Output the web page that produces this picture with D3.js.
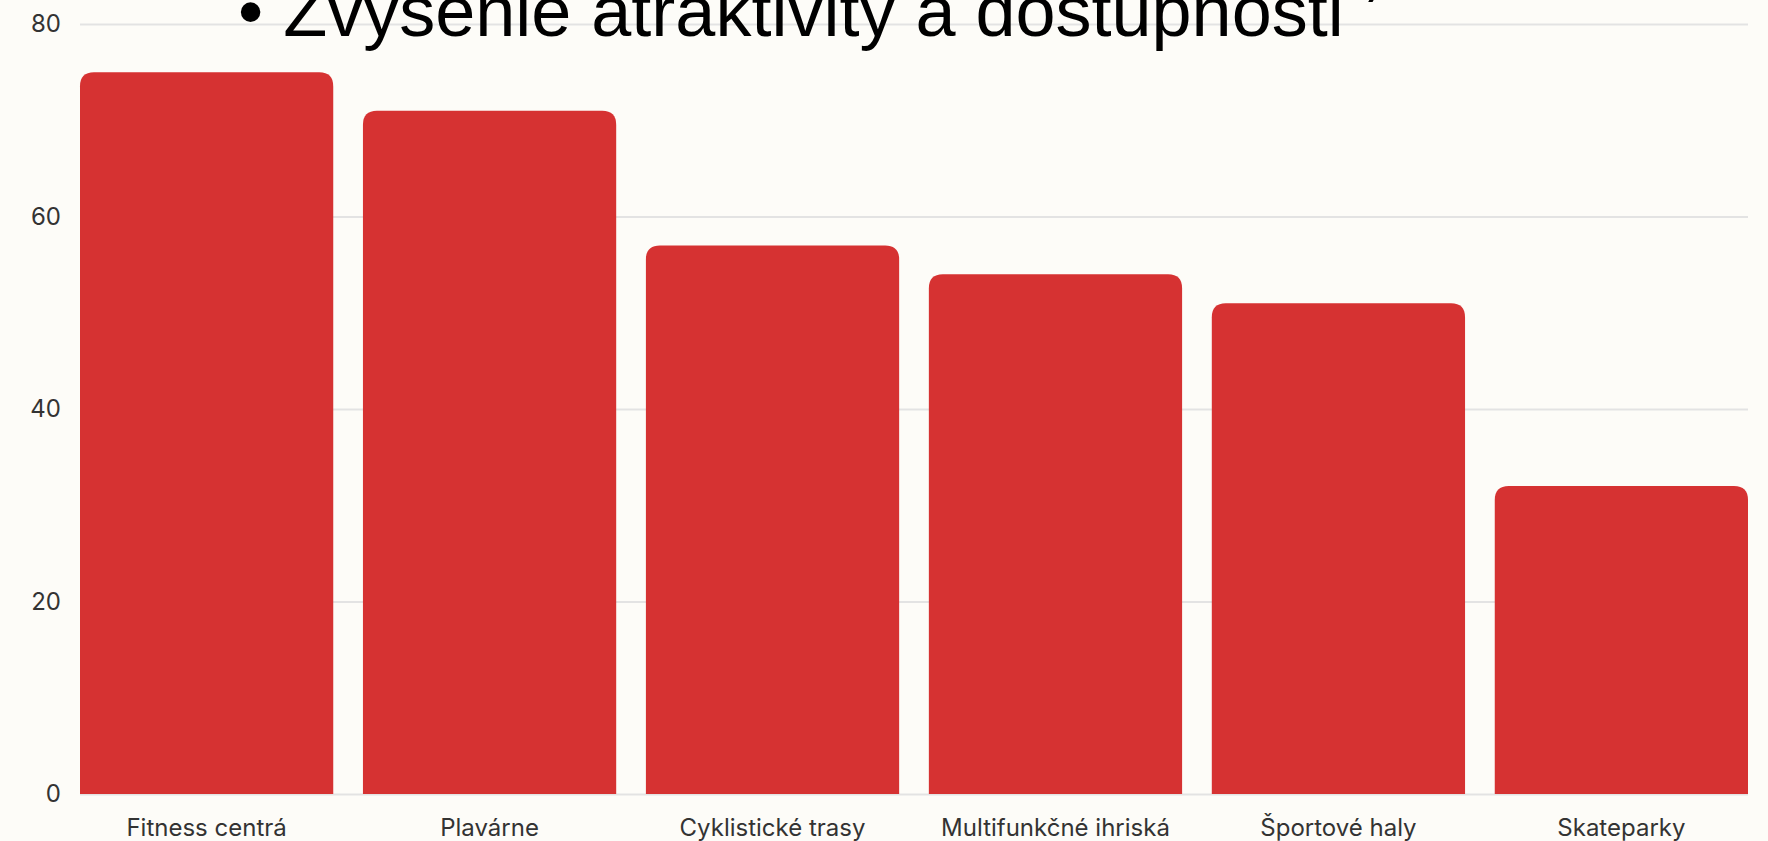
<!DOCTYPE html>
<html>
<head>
<meta charset="utf-8">
<script src="https://cdn.jsdelivr.net/npm/d3@7"></script>
<style>
  html, body { margin: 0; padding: 0; background: #fdfcf8; }
  svg { display: block; }
</style>
</head>
<body>
<div id="chart"></div>
<script>
// values
const categories = ["Fitness centrá", "Plavárne", "Cyklistické trasy", "Multifunkčné ihriská", "Športové haly", "Skateparky"];
const values = [75, 71, 57, 54, 51, 32];
const yTicks = [0, 20, 40, 60, 80];
const title = "• Zvýšenie atraktivity a dostupnosti ’";

const width = 1768, height = 841;
const margin = {top: 24, right: 20, bottom: 47, left: 80};

const svg = d3.select("#chart")
  .append("svg")
    .attr("width", width)
    .attr("height", height)
    .style("background-color", "#fdfcf8");

// scales
const xScale = d3.scaleBand()
  .domain(categories)
  .range([margin.left, width - margin.right])
  .paddingInner(0.105)
  .paddingOuter(0);

const yScale = d3.scaleLinear()
  .domain([0, 80])
  .range([height - margin.bottom, margin.top]);

// gridlines + y labels
const yAxis = svg.append("g")
  .attr("transform", `translate(${margin.left},0)`)
  .call(d3.axisLeft(yScale).tickValues(yTicks).tickSize(-(width - margin.left - margin.right)).tickPadding(19));
yAxis.select(".domain").remove();
yAxis.selectAll(".tick line")
  .attr("stroke", "#e3e3e3")
  .attr("stroke-width", 2);
yAxis.selectAll(".tick text")
  .attr("fill", "#333")
  .style("font-family", "Inter, 'Noto Sans', sans-serif")
  .style("font-size", "24px");

// bars, rounded at the top only
const r = 14;
const barPath = (d, i) => {
  const x0 = xScale(categories[i]), x1 = x0 + xScale.bandwidth();
  const y0 = yScale(0), y1 = yScale(d);
  return `M${x0},${y0} L${x0},${y1 + r} Q${x0},${y1} ${x0 + r},${y1} L${x1 - r},${y1} Q${x1},${y1} ${x1},${y1 + r} L${x1},${y0} Z`;
};

svg.append("g")
  .selectAll("path")
  .data(values)
  .enter().append("path")
    .attr("d", barPath)
    .attr("fill", "#d63232");

// x labels
const xAxis = svg.append("g")
  .attr("transform", `translate(0,${height - margin.bottom})`)
  .call(d3.axisBottom(xScale).tickSize(0).tickPadding(25));
xAxis.select(".domain").remove();
xAxis.selectAll(".tick text")
  .attr("fill", "#333")
  .style("font-family", "Inter, 'Noto Sans', sans-serif")
  .style("font-size", "24px");

// the slide text that overlaps the chart top
svg.append("text")
  .attr("x", 238)
  .attr("y", 36)
  .attr("fill", "#000")
  .style("font-family", "'Liberation Sans', Arial, sans-serif")
  .style("font-size", "72px")
  .text(title);
</script>
</body>
</html>
